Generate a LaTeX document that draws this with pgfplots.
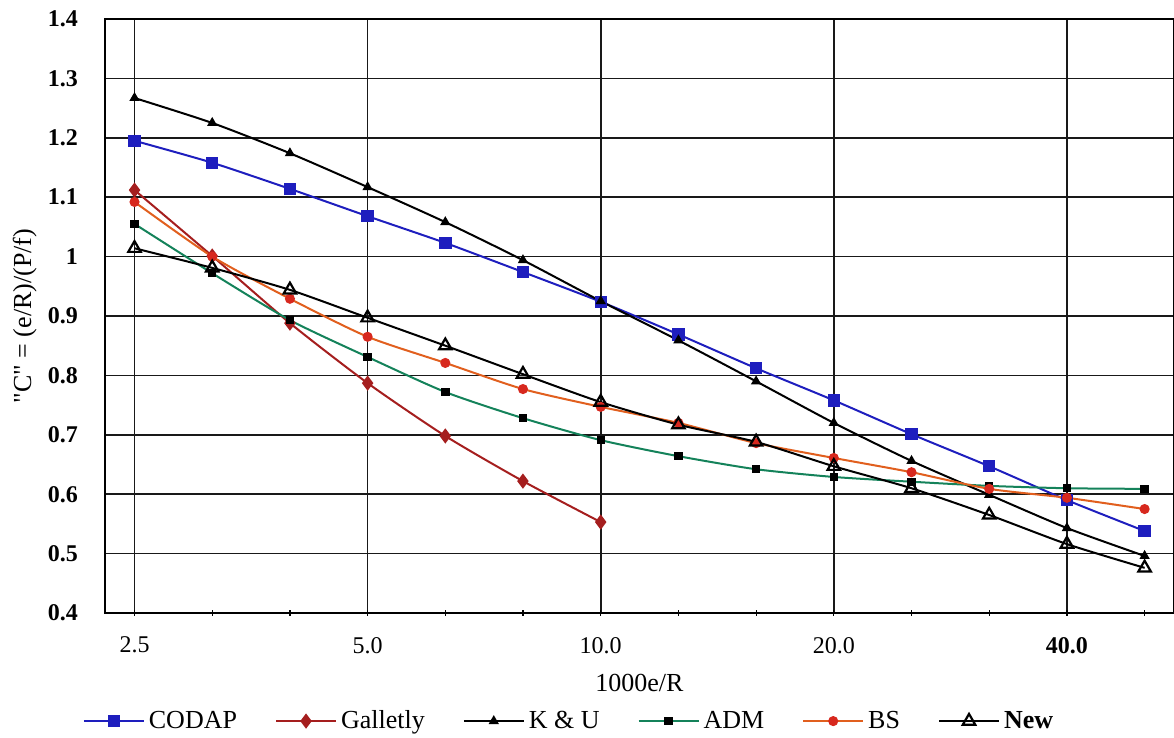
\documentclass[border=0pt]{standalone}
\usepackage{fontspec}
\setmainfont{Liberation Serif}
\newfontfamily\qfont{Liberation Serif}
\usepackage{pgfplots}
\pgfplotsset{compat=1.18}

\definecolor{codap}{RGB}{30,30,190}
\definecolor{galletly}{RGB}{165,30,30}
\definecolor{adm}{RGB}{20,130,90}
\definecolor{bs}{RGB}{225,95,30}
\definecolor{bsmark}{RGB}{215,40,30}

\begin{document}
\begin{tikzpicture}
% page frame: 1 px of the reference = 0.5pt
\useasboundingbox (-52.5pt,-62.5pt) rectangle (534.5pt,306.5pt);
\begin{axis}[
    at={(0,0)}, anchor=south west,
    width=534.5pt, height=297pt, scale only axis,
    xmode=log,
    xmin=2.29, xmax=55, ymin=0.4, ymax=1.4,
    xtick={2.5,5,10,20,40},
    xticklabels={2.5,5.0,10.0,20.0,\textbf{40.0}},
    minor xtick={3.150,3.969,6.300,7.937,12.599,15.874,25.198,31.748,50.397},
    ytick={0.4,0.5,0.6,0.7,0.8,0.9,1.0,1.1,1.2,1.3,1.4},
    yticklabels={0.4,0.5,0.6,0.7,0.8,0.9,1,1.1,1.2,1.3,1.4},
    xtick pos=lower, ytick pos=left,
    xmajorgrids, ymajorgrids,
    major grid style={black!90, line width=0.8pt},
    axis line style={black, line width=0.8pt},
    tick style={black, line width=0.6pt},
    major tick length=3pt, minor tick length=3pt,
    ytick style={draw=none},
    tick align=center,
    xticklabel style={font=\fontsize{12}{14}\selectfont, yshift=-7pt},
    yticklabel style={font=\fontsize{12}{14}\selectfont\bfseries, xshift=-8.5pt},
    xlabel={1000e/R},
    xlabel style={font=\fontsize{13}{15}\selectfont, at={(axis description cs:0.5,-0.091)}, anchor=north},
    ylabel={{\qfont\char"22}C{\qfont\char"22} = (e/R)/(P/f)},
    ylabel style={font=\fontsize{13}{15}\selectfont, at={(axis description cs:-0.075,0.5)}, anchor=center, rotate=0},
    legend columns=6,
    legend image code/.code={\draw[mark repeat=2, mark phase=2, #1] plot coordinates {(0pt,0pt) (15pt,0pt) (30pt,0pt)};},
    legend style={draw=none, fill=none, at={(axis description cs:0.435,-0.182)}, anchor=center,
        font=\fontsize{13}{15}\selectfont, /tikz/every even column/.append style={column sep=17pt}},
    every axis plot/.append style={line width=1pt, smooth, tension=0.4},
]
% CODAP
\addplot[codap, mark=square*, mark size=2.6pt, mark options={fill=codap}] coordinates {
 (2.5,1.195) (3.150,1.158) (3.969,1.114) (5.0,1.068) (6.300,1.023) (7.937,0.974) (10,0.924)
 (12.599,0.869) (15.874,0.812) (20,0.758) (25.198,0.701) (31.748,0.647) (40,0.590) (50.397,0.538)
};
% Galletly
\addplot[galletly, mark=diamond*, mark size=3pt, mark options={fill=galletly}] coordinates {
 (2.5,1.112) (3.150,1.001) (3.969,0.888) (5.0,0.787) (6.300,0.698) (7.937,0.622) (10,0.553)
};
% K & U
\addplot[black, mark=triangle*, mark size=2pt] coordinates {
 (2.5,1.267) (3.150,1.225) (3.969,1.174) (5.0,1.117) (6.300,1.058) (7.937,0.994) (10,0.925)
 (12.599,0.859) (15.874,0.790) (20,0.720) (25.198,0.656) (31.748,0.599) (40,0.543) (50.397,0.496)
};
% ADM
\addplot[adm, mark=square*, mark size=1.6pt, mark options={black, fill=black}] coordinates {
 (2.5,1.055) (3.150,0.972) (3.969,0.893) (5.0,0.831) (6.300,0.772) (7.937,0.728) (10,0.691)
 (12.599,0.664) (15.874,0.642) (20,0.629) (25.198,0.621) (31.748,0.614) (40,0.610) (50.397,0.609)
};
% BS
\addplot[bs, mark=*, mark size=2pt, mark options={bsmark, fill=bsmark}] coordinates {
 (2.5,1.092) (3.150,1.000) (3.969,0.929) (5.0,0.865) (6.300,0.821) (7.937,0.777) (10,0.747)
 (12.599,0.720) (15.874,0.686) (20,0.661) (25.198,0.637) (31.748,0.609) (40,0.594) (50.397,0.575)
};
% New
\addplot[black, mark=triangle, mark size=3.6pt, mark options={black, line width=1.1pt, fill=white}] coordinates {
 (2.5,1.014) (3.150,0.981) (3.969,0.944) (5.0,0.897) (6.300,0.850) (7.937,0.802) (10,0.755)
 (12.599,0.717) (15.874,0.688) (20,0.647) (25.198,0.610) (31.748,0.565) (40,0.516) (50.397,0.476)
};
\legend{CODAP, Galletly, K \& U, ADM, BS, \textbf{New}}
\end{axis}
\end{tikzpicture}
\end{document}
